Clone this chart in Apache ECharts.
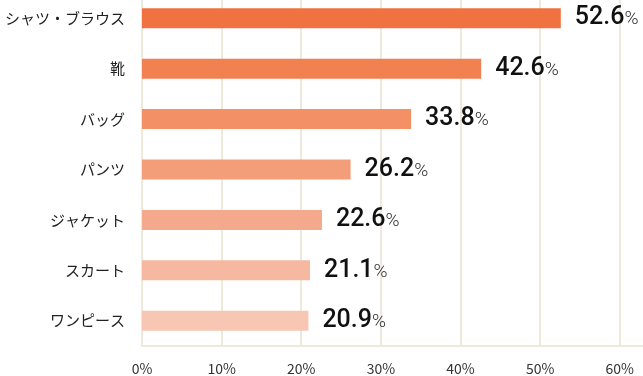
<!DOCTYPE html>
<html>
<head>
<meta charset="utf-8">
<script src="https://cdn.jsdelivr.net/npm/echarts@6/dist/echarts.min.js"></script>
<style>
  html, body { margin: 0; padding: 0; background: #fff; overflow: hidden; }
  /* the chart area starts a little above the page top, as in the source picture */
  #main { position: absolute; left: 0; top: -7px; width: 646px; height: 383px; }
</style>
</head>
<body>
<div id="main"></div>
<script>
// data
var categories = ['シャツ・ブラウス', '靴', 'バッグ', 'パンツ', 'ジャケット', 'スカート', 'ワンピース'];
var values = [52.6, 42.6, 33.8, 26.2, 22.6, 21.1, 20.9];
var tickValues = [0, 10, 20, 30, 40, 50, 60];

// bar colours, darkest first
var barColors = ['#ef7240', '#f18151', '#f39066', '#f49d79', '#f5a98c', '#f7b8a1', '#f8c7b4'];
var lineColor = '#eeeadb';

var chart = echarts.init(document.getElementById('main'));

var option = {
    animation: false,
    grid: {
        left: 142,
        right: 0,
        top: 0,
        bottom: 28
    },
    xAxis: {
        type: 'value',
        min: 0,
        max: 63.3,
        interval: 10,
        axisLine: {
            show: true,
            lineStyle: { color: lineColor, width: 2 }
        },
        axisTick: { show: false },
        splitLine: {
            show: true,
            lineStyle: { color: lineColor, width: 2 }
        },
        axisLabel: {
            showMaxLabel: false,
            margin: 16,
            color: '#333',
            fontSize: 14,
            fontFamily: '"Noto Sans CJK JP", "Noto Sans", sans-serif',
            formatter: function (v) {
                return tickValues.indexOf(v) >= 0 ? v + '%' : '';
            }
        }
    },
    yAxis: {
        type: 'category',
        inverse: true,
        data: categories,
        axisLine: {
            show: true,
            lineStyle: { color: lineColor, width: 2 }
        },
        axisTick: { show: false },
        axisLabel: {
            margin: 17,
            color: '#222',
            fontSize: 15,
            fontFamily: '"Noto Sans CJK JP", sans-serif'
        }
    },
    series: [
        {
            type: 'bar',
            barWidth: 20,
            data: values.map(function (v, i) {
                return { value: v, itemStyle: { color: barColors[i] } };
            }),
            label: {
                show: true,
                position: 'right',
                distance: 14,
                formatter: function (p) {
                    return '{v|' + p.value.toFixed(1) + '}{p|%}';
                },
                rich: {
                    v: {
                        fontFamily: 'Roboto, sans-serif',
                        fontWeight: 500,
                        fontSize: 25,
                        color: '#111'
                    },
                    p: {
                        fontFamily: 'Roboto, sans-serif',
                        fontWeight: 300,
                        fontSize: 19,
                        color: '#333',
                        padding: [3, 0, 0, 0]
                    }
                }
            }
        }
    ]
};

chart.setOption(option);
</script>
</body>
</html>
